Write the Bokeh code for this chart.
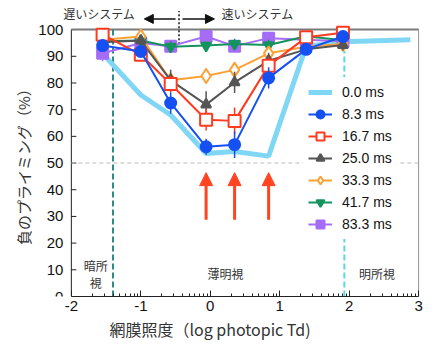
import math
from bokeh.plotting import figure
from bokeh.models import (Range1d, FixedTicker, Label, Arrow, NormalHead, Legend,
                          LegendItem, ColumnDataSource)
from bokeh.core.properties import value
from bokeh.embed import file_html
from bokeh.resources import INLINE

# ---------------- data ----------------
X = [-1.55, -1.0, -0.57, -0.06, 0.35, 0.84, 1.38, 1.91]
X0 = [-1.55, -1.0, -0.57, -0.06, 0.35, 0.84, 1.38, 1.91, 2.88]
ms00 = [91.0, 75.5, 68.0, 53.6, 54.3, 52.6, 93.8, 95.4, 96.2]

ms83 = [94.0, 91.8, 72.5, 56.1, 56.9, 81.9, 92.6, 97.4]
ms83_err = [2, 2, 4, 3, 5, 4, 2, 2]
ms167 = [98.1, 90.6, 79.6, 66.2, 65.8, 86.5, 97.1, 98.8]
ms167_err = [2, 2, 3, 4, 5, 3, 2, 2]
ms250 = [95.3, 95.9, 81.0, 71.9, 80.2, 88.3, 92.6, 94.2]
ms250_err = [2, 2, 4, 5, 4, 3, 2, 2]
ms333 = [96.2, 97.4, 81.0, 82.6, 84.9, 91.1, 93.6, 94.6]
ms333_err = [2, 1.5, 2, 3, 3, 2, 2, 2]
ms417 = [95.6, 95.9, 93.6, 94.0, 94.6, 94.2, 97.5, 96.0]
ms417_err = [1.5, 1.5, 2, 1.5, 2, 2, 1.5, 1.5]
ms833 = [91.1, 95.0, 93.8, 97.4, 93.8, 96.8, 96.2, 95.6]
ms833_err = [3, 2, 1.5, 1.5, 2, 1.5, 1.5, 1.5]

labels = ["0.0 ms", "8.3 ms", "16.7 ms", "25.0 ms", "33.3 ms", "41.7 ms", "83.3 ms"]

x_ticks = [-2, -1, 0, 1, 2, 3]
x_tick_labels = ["-2", "-1", "0", "1", "2", "3"]
y_ticks = [0, 10, 20, 30, 40, 50, 60, 70, 80, 90, 100]
y_tick_labels = ["0", "10", "20", "30", "40", "50", "60", "70", "80", "90", "100"]

scotopic_x = -1.40
photopic_x = 1.93
photopic_top = 92
divider_x = -0.45
arrow_x = [-0.06, 0.35, 0.84]

X_MIN, X_MAX, Y_MAX = -2, 3, 100

LATIN = "Liberation Sans"
CJK = "Noto Sans CJK JP"

W, H = 424, 344
XR = (-3.02, 3.012)
p = figure(width=W, height=H, x_range=Range1d(*XR), y_range=Range1d(0, 110.9),
           output_backend="svg", toolbar_location=None,
           min_border_left=0, min_border_right=5, min_border_top=0, min_border_bottom=48)
p.outline_line_color = None
p.xgrid.visible = False
p.ygrid.visible = False
p.yaxis.visible = False
p.background_fill_color = "white"
p.border_fill_color = "white"

minor = [i + math.log10(k) for i in range(-2, 3) for k in range(2, 10)]
xax = p.xaxis[0]
xax.ticker = FixedTicker(ticks=x_ticks, minor_ticks=minor)
xax.major_label_overrides = dict(zip(x_ticks, x_tick_labels))
xax.bounds = (X_MIN, X_MAX)
xax.axis_line_color = "#222222"
xax.major_tick_line_color = "#222222"
xax.minor_tick_line_color = "#222222"
xax.major_tick_out = 0
xax.minor_tick_out = 0
xax.major_tick_in = 6
xax.minor_tick_in = 3
xax.major_label_text_font = LATIN
xax.major_label_text_font_size = "15px"
xax.major_label_text_color = "#111111"
xax.major_label_standoff = 4
xax.axis_label = "網膜照度（log photopic Td)"
xax.axis_label_text_font = CJK
xax.axis_label_text_font_style = "normal"
xax.axis_label_text_color = "#333333"
xax.axis_label_text_font_size = "16px"
xax.axis_label_standoff = 3

# hand-drawn left axis at x = -2 (so texts may sit left of it)
px_per_unit = (W - 5) / (XR[1] - XR[0])
tick_len = 5 / px_per_unit
p.line([X_MIN, X_MIN], [0, Y_MAX], line_color="#222222", line_width=1)
p.segment(x0=[X_MIN] * len(y_ticks), y0=y_ticks, x1=[X_MIN + tick_len] * len(y_ticks), y1=y_ticks,
          line_color="#222222", line_width=1)
p.text(x=[X_MIN] * len(y_ticks), y=y_ticks, text=y_tick_labels, x_offset=-8,
       text_font=value(LATIN), text_font_size=value("15px"), text_color="#111111",
       text_align="right", text_baseline="middle")
p.add_layout(Label(x=X_MIN, y=50, x_offset=-48, text="負のプライミング（%）", angle=math.pi / 2,
                   text_font=CJK, text_font_size="15px", text_color="#333333",
                   text_align="center", text_baseline="middle"))

# frame top / right borders
p.line([X_MIN, X_MAX], [Y_MAX, Y_MAX], line_color="#7a7a7a", line_width=2)
p.line([X_MAX, X_MAX], [0, Y_MAX], line_color="#8a8a8a", line_width=1)

# reference lines
p.line([X_MIN, X_MAX], [50, 50], line_color="#bbbbbb", line_width=1, line_dash="4 3")
p.line([scotopic_x, scotopic_x], [0, Y_MAX], line_color="#2f8a8a", line_width=2, line_dash="6 3")
p.line([photopic_x, photopic_x], [0, photopic_top], line_color="#5ad6e6", line_width=2, line_dash="6 3")
p.line([divider_x, divider_x], [94.5, 107], line_color="#111111", line_width=1.5, line_dash="2 2")

items = []
r0 = p.line(X0, ms00, line_color="#80d6f5", line_width=5)
items.append(LegendItem(label=labels[0], renderers=[r0]))

series = [
    (ms833, ms833_err, "#a56cf7", "square", "#a56cf7", 11, labels[6]),
    (ms417, ms417_err, "#14935e", "inverted_triangle", "#14935e", 10, labels[5]),
    (ms333, ms333_err, "#ffa033", "diamond", "white", 14, labels[4]),
    (ms250, ms250_err, "#555555", "triangle", "#555555", 10, labels[3]),
    (ms167, ms167_err, "#ff3b1f", "square", "white", 12, labels[2]),
    (ms83, ms83_err, "#1550f2", "circle", "#1550f2", 11, labels[1]),
]
legend_map = {}
for ys, err, col, marker, fill, size, lab in series:
    src = ColumnDataSource(dict(x=X, y=ys,
                                lo=[a - b for a, b in zip(ys, err)],
                                hi=[a + b for a, b in zip(ys, err)]))
    p.segment(x0="x", y0="lo", x1="x", y1="hi", source=src, line_color=col, line_width=1.5)
    rl = p.line("x", "y", source=src, line_color=col, line_width=2)
    rs = p.scatter("x", "y", source=src, marker=marker, size=size, fill_color=fill,
                   line_color=col, line_width=2)
    legend_map[lab] = [rl, rs]
for lab in labels[1:]:
    items.append(LegendItem(label=lab, renderers=legend_map[lab]))

legend = Legend(items=items, location=(303, 57), background_fill_color="white",
                background_fill_alpha=1.0, border_line_alpha=0,
                label_text_font=LATIN, label_text_font_size="14px", label_text_color="#111111",
                glyph_width=24, glyph_height=20, label_height=20, spacing=2,
                label_standoff=10, padding=5, margin=0)
p.add_layout(legend)

# annotations
for ax_ in arrow_x:
    p.add_layout(Arrow(end=NormalHead(size=13, fill_color="#ff4422", line_color="#ff4422"),
                       x_start=ax_, y_start=28.8, x_end=ax_, y_end=46.4,
                       line_color="#ff4422", line_width=3))
p.add_layout(Arrow(end=NormalHead(size=9, fill_color="#111111", line_color="#111111"),
                   x_start=-0.50, y_start=104, x_end=-0.95, y_end=104,
                   line_color="#111111", line_width=1.5))
p.add_layout(Arrow(end=NormalHead(size=9, fill_color="#111111", line_color="#111111"),
                   x_start=-0.40, y_start=104, x_end=0.06, y_end=104,
                   line_color="#111111", line_width=1.5))

def lab(x, y, t, size="12px"):
    p.add_layout(Label(x=x, y=y, text=t, text_font=CJK, text_font_size=size,
                       text_color="#333333", text_align="center", text_baseline="middle"))

lab(-1.60, 106, "遅いシステム")
lab(0.68, 106, "速いシステム")
lab(-1.65, 11.7, "暗所")
lab(-1.65, 5.1, "視")
lab(0.22, 8.8, "薄明視")
lab(2.40, 8.8, "明所視")

open("out.html", "w").write(file_html(p, INLINE))
